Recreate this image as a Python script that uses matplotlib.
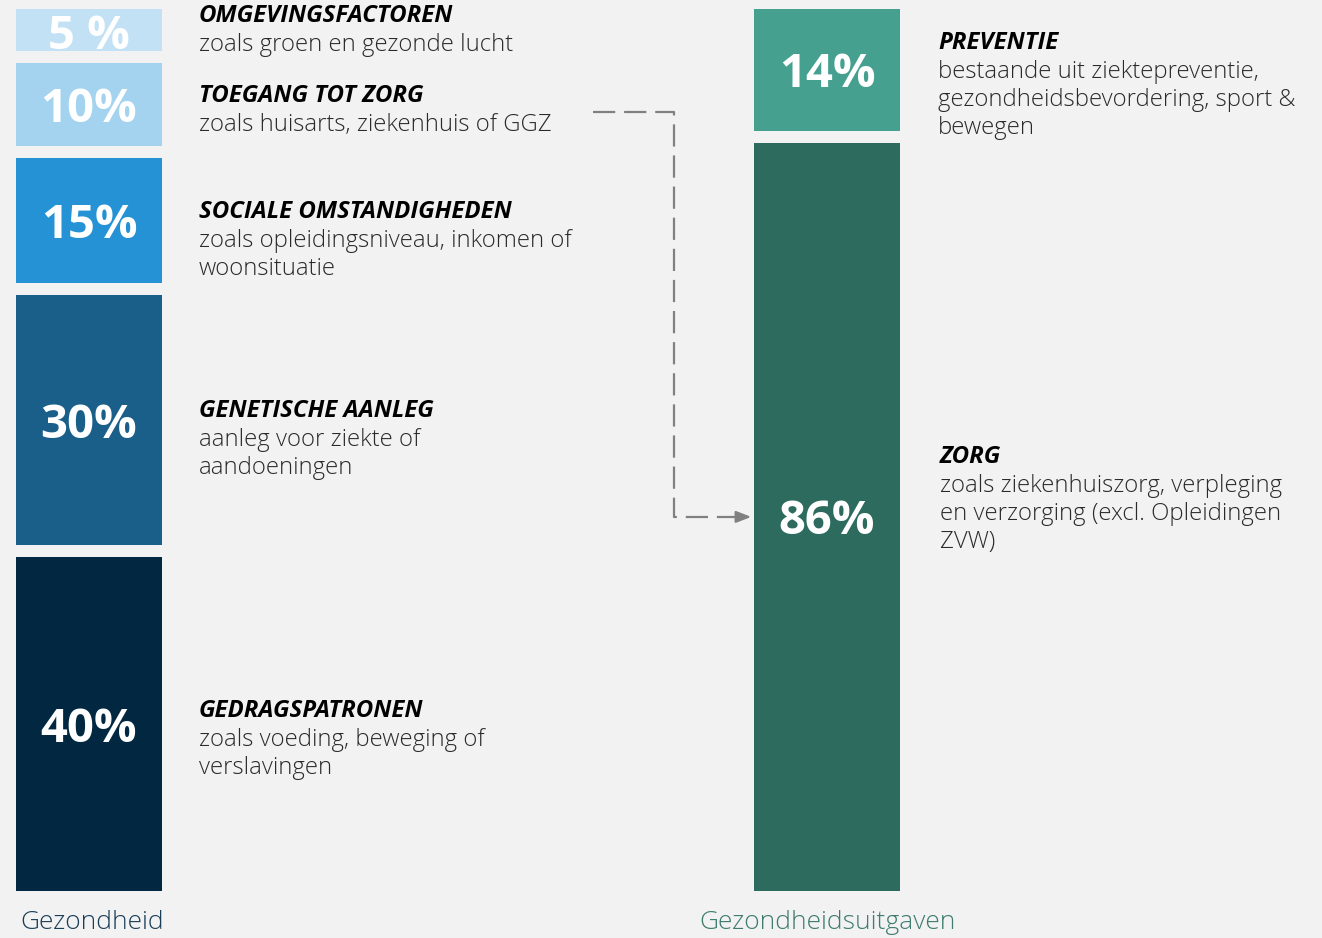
import matplotlib.pyplot as plt
from matplotlib import font_manager

plt.rcParams['font.family'] = ['Open Sans', 'DejaVu Sans']

# a thin family for the descriptions, if one is installed
LIGHT = 'Open Sans'
for fam in ['Open Sans', 'Lato', 'Roboto', 'Noto Sans', 'Inter']:
    found = [f for f in font_manager.fontManager.ttflist
             if f.name == fam and f.style == 'normal' and
             (f.weight in ('light', 'extra light', 'ultralight') or
              (isinstance(f.weight, int) and f.weight <= 300))]
    if found:
        LIGHT = fam
        break

# data
left_values = [5, 10, 15, 30, 40]
left_labels = ['5 %', '10%', '15%', '30%', '40%']
left_colors = ['#c2e1f5', '#a3d3ef', '#2492d4', '#1a5f8a', '#012840']
left_titles = ['OMGEVINGSFACTOREN', 'TOEGANG TOT ZORG', 'SOCIALE OMSTANDIGHEDEN',
               'GENETISCHE AANLEG', 'GEDRAGSPATRONEN']
left_texts = ['zoals groen en gezonde lucht',
              'zoals huisarts, ziekenhuis of GGZ',
              'zoals opleidingsniveau, inkomen of\nwoonsituatie',
              'aanleg voor ziekte of\naandoeningen',
              'zoals voeding, beweging of\nverslavingen']

right_values = [14, 86]
right_labels = ['14%', '86%']
right_colors = ['#45a08f', '#2d6b5e']
right_titles = ['PREVENTIE', 'ZORG']
right_texts = ['bestaande uit ziektepreventie,\ngezondheidsbevordering, sport &\nbewegen',
               'zoals ziekenhuiszorg, verpleging\nen verzorging (excl. Opleidingen\nZVW)']

W, H = 1322, 938
TOP, BOTTOM, GAP = 9, 891, 12
HEAD_SIZE, DESC_SIZE, LSP = 17.3, 17.2, 1.23

fig = plt.figure(figsize=(W / 100, H / 100), dpi=100)
fig.patch.set_facecolor('#f2f2f2')

base = fig.add_axes([0, 0, 1, 1])
base.set_xlim(0, W)
base.set_ylim(H, 0)
base.axis('off')


def bar_axes(values):
    # y in percent units, scaled so that all segments + gaps fill TOP..BOTTOM
    ax = fig.add_axes([0, 0, 1, 1])
    ax.patch.set_alpha(0)
    k = (BOTTOM - TOP - GAP * (len(values) - 1)) / sum(values)
    ax.set_xlim(0, W)
    ax.set_ylim((H - TOP) / k, -TOP / k)
    ax.axis('off')
    return ax, GAP / k


def block(ax, x, y, title, text, head_off, coords='offset pixels'):
    ax.annotate(title, xy=(x, y), xytext=(0, head_off),
                textcoords=coords, ha='left', va='center',
                fontsize=HEAD_SIZE, fontweight='bold', fontstyle='italic', color='black')
    ax.annotate(text, xy=(x, y), xytext=(0, head_off - 17),
                textcoords=coords, ha='left', va='top',
                fontsize=DESC_SIZE, fontweight='light', family=[LIGHT, 'DejaVu Sans'],
                color='#2a2a2a', linespacing=LSP)


def draw_stack(ax, gap, x0, width, values, labels, colors):
    bottom = 0
    centers = []
    for i, v in enumerate(values):
        ax.bar(x0, v, width=width, bottom=bottom, color=colors[i], align='edge')
        c = bottom + v / 2
        centers.append(c)
        ax.annotate(labels[i], xy=(x0 + width / 2, c), xytext=(0, -5 if v > 5 else -7),
                    textcoords='offset pixels', ha='center', va='center',
                    color='white', fontsize=34, fontweight='bold')
        bottom += v + gap
    return centers


ax_l, gap_l = bar_axes(left_values)
centers_l = draw_stack(ax_l, gap_l, 16, 146, left_values, left_labels, left_colors)
for i, c in enumerate(centers_l):
    block(ax_l, 199, c, left_titles[i], left_texts[i], [14, 8, 9, 9, 13][i])

ax_r, gap_r = bar_axes(right_values)
centers_r = draw_stack(ax_r, gap_r, 754, 146, right_values, right_labels, right_colors)

# right side descriptions (placed like the reference)
block(base, 938, 43, right_titles[0], right_texts[0], 0)
block(base, 940, 457, right_titles[1], right_texts[1], 0)

# dashed connector from "toegang tot zorg" to the 86% block
px = ax_r.transData.transform((754, centers_r[1]))
y_end = base.transData.inverted().transform(px)[1]
base.plot([593, 674, 674, 738], [112, 112, y_end, y_end], color='#808080',
          lw=1.6, ls=(0, (10, 4)))
base.annotate('', xy=(754, y_end), xytext=(736, y_end),
              arrowprops=dict(arrowstyle='-|>,head_length=0.9,head_width=0.35',
                              color='#808080', lw=1.6))

# bottom captions
base.text(20, 910, 'Gezondheid', ha='left', va='top', fontsize=19,
          fontweight='light', family=[LIGHT, 'DejaVu Sans'], color='#1b3e58')
base.text(699, 910, 'Gezondheidsuitgaven', ha='left', va='top', fontsize=19,
          fontweight='light', family=[LIGHT, 'DejaVu Sans'], color='#3d7c6e')

fig.savefig('out.png', dpi=100, facecolor=fig.get_facecolor())
